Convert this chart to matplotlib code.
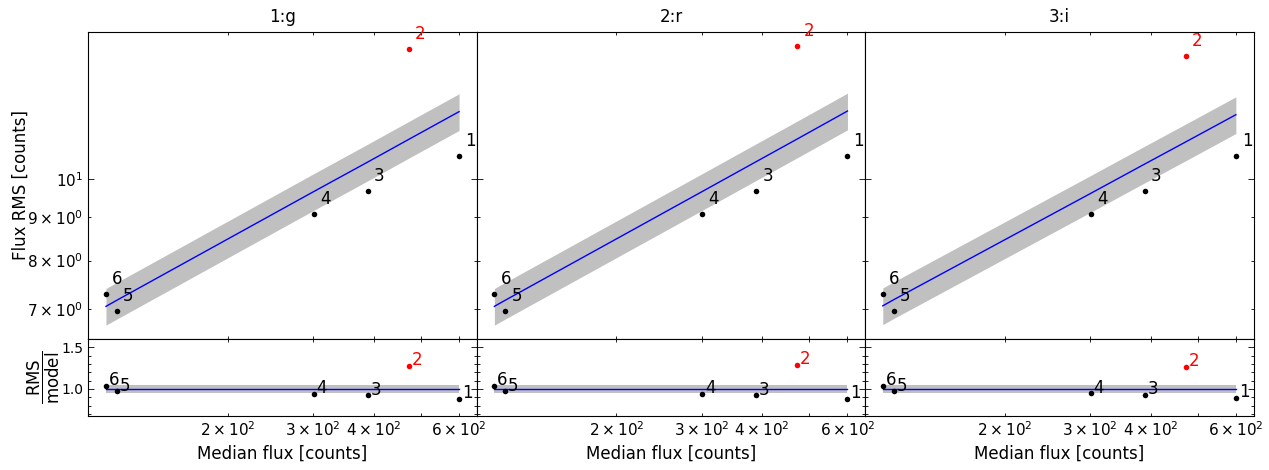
import numpy as np
import matplotlib
matplotlib.use("Agg")
import matplotlib.pyplot as plt

# ---------------- data ----------------
bands = ["1:g", "2:r", "3:i"]
star_ids = ["1", "2", "3", "4", "5", "6"]
median_flux = [600, 473, 389, 301, 118, 112]
outlier = [False, True, False, False, False, False]

rms_g = [10.63, 14.25, 9.68, 9.09, 6.98, 7.31]
rms_r = [10.63, 14.38, 9.68, 9.09, 6.98, 7.31]
rms_i = [10.63, 13.99, 9.68, 9.09, 6.98, 7.31]

model_g = [12.01, 11.14, 10.47, 9.66, 7.18, 7.06]
model_r = [12.03, 11.15, 10.48, 9.66, 7.18, 7.06]
model_i = [11.91, 11.06, 10.41, 9.61, 7.19, 7.07]

band_frac = 0.05   # half width of the grey band

rms_all = [rms_g, rms_r, rms_i]
model_all = [model_g, model_r, model_i]

# ---------------- figure ----------------
fig = plt.figure(figsize=(12.69, 4.70), dpi=100)
gs = fig.add_gridspec(2, 3, height_ratios=[4, 1], hspace=0, wspace=0,
                      left=0.0696, right=0.9878, top=0.9326, bottom=0.1149)

flux = np.array(median_flux)
order = np.argsort(flux)
ax_top0 = None
ax_bot0 = None

for j, name in enumerate(bands):
    ax_t = fig.add_subplot(gs[0, j], sharey=ax_top0)
    ax_b = fig.add_subplot(gs[1, j], sharex=ax_t, sharey=ax_bot0)
    if ax_top0 is None:
        ax_top0, ax_bot0 = ax_t, ax_b

    rms = np.array(rms_all[j])
    model = np.array(model_all[j])
    ratio = rms / model
    colors = ["red" if o else "black" for o in outlier]

    # top: rms vs flux
    ax_t.fill_between(flux[order], model[order] * (1 - band_frac),
                      model[order] * (1 + band_frac), color="silver", lw=0)
    ax_t.plot(flux[order], model[order], color="blue", lw=1)
    for k in range(len(flux)):
        ax_t.plot(flux[k], rms[k], "o", color=colors[k], ms=4, mew=0)
        ax_t.annotate(star_ids[k], (flux[k], rms[k]), xytext=(4.4, 7.2),
                      textcoords="offset points", fontsize=12,
                      color=colors[k], va="baseline")
    ax_t.set_xscale("log")
    ax_t.set_yscale("log")
    ax_t.set_title(name, fontsize=12, pad=7)

    # bottom: ratio
    ax_b.fill_between(flux[order], 1 - band_frac, 1 + band_frac,
                      color="silver", lw=0)
    ax_b.plot(flux[order], np.ones(len(flux)), color="blue", lw=1)
    for k in range(len(flux)):
        ax_b.plot(flux[k], ratio[k], "o", color=colors[k], ms=4, mew=0)
        ax_b.annotate(star_ids[k], (flux[k], ratio[k]), xytext=(2, 0.5),
                      textcoords="offset points", fontsize=12,
                      color=colors[k], va="baseline")
    ax_b.set_ylim(0.675, 1.6)
    ax_b.yaxis.set_major_locator(plt.MultipleLocator(0.5))
    ax_b.yaxis.set_minor_locator(plt.MultipleLocator(0.1))
    ax_b.set_xlabel("Median flux [counts]", fontsize=12)

    for ax in (ax_t, ax_b):
        ax.tick_params(which="both", direction="in", top=True, right=True,
                       labelsize=11)
        ax.tick_params(which="major", length=4, width=0.6)
        ax.tick_params(which="minor", length=2.5, width=0.6)
    ax_b.tick_params(axis="y", labelsize=10)
    ax_t.tick_params(which="both", labelbottom=False)
    if j > 0:
        ax_t.tick_params(which="both", labelleft=False)
        ax_b.tick_params(which="both", labelleft=False)
    else:
        ax_t.set_ylabel("Flux RMS [counts]", fontsize=12)
        ax_t.yaxis.set_label_coords(-0.152, 0.5)
        ax_b.set_ylabel(r"$\dfrac{\mathrm{RMS}}{\mathrm{model}}$", fontsize=12)
        ax_b.yaxis.set_label_coords(-0.068, 0.5)

fig.savefig("out.png", dpi=100)
